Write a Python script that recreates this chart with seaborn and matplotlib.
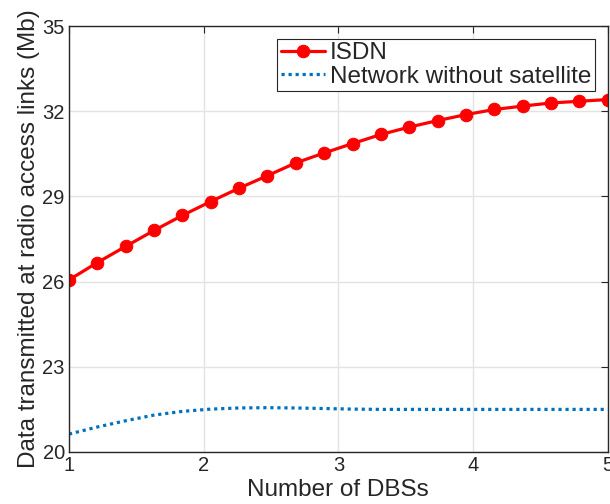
import numpy as np
import pandas as pd
import matplotlib
matplotlib.use("Agg")
import matplotlib.pyplot as plt
import seaborn as sns

# ---- data ----
num_dbs = [1.0, 1.2105, 1.4211, 1.6316, 1.8421, 2.0526, 2.2632, 2.4737, 2.6842, 2.8947,
           3.1053, 3.3158, 3.5263, 3.7368, 3.9474, 4.1579, 4.3684, 4.5789, 4.7895, 5.0]
isdn = [26.06, 26.67, 27.24, 27.80, 28.33, 28.82, 29.29, 29.73, 30.18, 30.53,
        30.86, 31.18, 31.44, 31.67, 31.88, 32.06, 32.18, 32.29, 32.35, 32.41]
no_sat = [20.63, 20.88, 21.10, 21.30, 21.43, 21.51, 21.55, 21.56, 21.55, 21.53,
          21.51, 21.50, 21.50, 21.50, 21.50, 21.50, 21.50, 21.50, 21.50, 21.50]
series_names = ["ISDN", "Network without satellite"]
y_ticks = [20, 23, 26, 29, 32, 35]
x_ticks = [1, 2, 3, 4, 5]

df = pd.DataFrame({
    "x": num_dbs * 2,
    "y": isdn + no_sat,
    "series": [series_names[0]] * len(num_dbs) + [series_names[1]] * len(num_dbs),
})

sns.set_style("white")
plt.rcParams["font.family"] = ["Liberation Sans", "DejaVu Sans"]

fig = plt.figure(figsize=(6.10, 5.04), dpi=100)
ax = fig.add_axes([0.1131, 0.1032, 0.8831, 0.8452])

red = "#ff0000"
blue = "#0072bd"

sns.lineplot(data=df[df.series == series_names[0]], x="x", y="y", ax=ax,
             color=red, linewidth=2.3, marker="o", markersize=9,
             markeredgecolor=red, markerfacecolor=red, label=series_names[0])
sns.lineplot(data=df[df.series == series_names[1]], x="x", y="y", ax=ax,
             color=blue, linewidth=2.3, linestyle=(0, (1, 1.2)),
             label=series_names[1])

ax.set_xlim(1, 5)
ax.set_ylim(20, 35)
ax.set_xticks(x_ticks)
ax.set_yticks(y_ticks)
ax.set_xticklabels([str(t) for t in x_ticks])
ax.set_yticklabels([str(t) for t in y_ticks])
ax.grid(True, color="#e3e3e3", linewidth=1.0)
ax.set_axisbelow(True)
for s in ax.spines.values():
    s.set_visible(True)
    s.set_color("#262626")
    s.set_linewidth(1.0)
ax.tick_params(direction="in", length=5, width=0.8, top=True, right=True,
               labelsize=14.5, colors="#262626", pad=3)
ax.tick_params(axis="both", labelcolor="#262626")

ax.set_xlabel("Number of DBSs", fontsize=17.5, color="#262626", labelpad=3)
ax.set_ylabel("Data transmitted at radio access links (Mb)", fontsize=17.5,
              color="#262626", labelpad=2)

leg = ax.legend(loc="upper right", bbox_to_anchor=(0.976, 0.970), borderaxespad=0,
                fontsize=17.5, frameon=True, fancybox=False, handlelength=1.8,
                handletextpad=0.2, borderpad=0.15, labelspacing=0.05, framealpha=1)
leg.get_frame().set_edgecolor("#262626")
leg.get_frame().set_linewidth(0.8)

fig.savefig("out.png", dpi=100)
